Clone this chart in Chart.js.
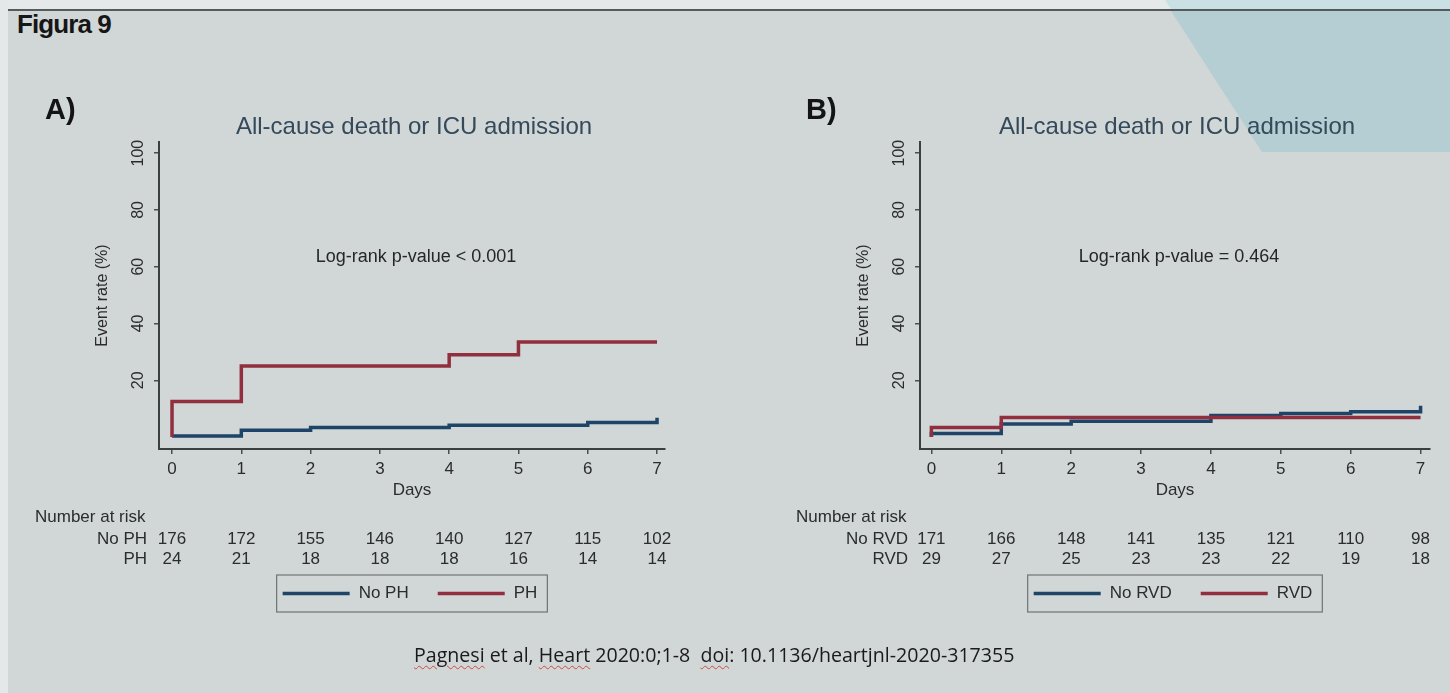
<!DOCTYPE html>
<html lang="es">
<head>
<meta charset="UTF-8">
<title>Figura 9</title>
<script src="https://cdn.jsdelivr.net/npm/chart.js"></script>
<style>
  body { margin: 0; width: 1450px; height: 693px; overflow: hidden; position: relative;
         background: #d1d6d7; font-family: "Liberation Sans", Arial, sans-serif; }
  .abs { position: absolute; }
  #topStrip { left: 0; top: 0; width: 1450px; height: 9px; background: #e6e9ea; }
  #leftStrip { left: 0; top: 0; width: 8px; height: 693px; background: #e4e8e9; }
  #tealTop { left: 0; top: 0; width: 1450px; height: 9px; background: #c9e0e4;
             clip-path: polygon(1165px 0, 1450px 0, 1450px 9px, 1171px 9px); }
  #teal { left: 0; top: 0; width: 1450px; height: 693px; background: #b4ced3;
          clip-path: polygon(1171px 11px, 1450px 11px, 1450px 152px, 1262px 152px); }
  #rule { left: 8px; top: 9px; width: 1442px; height: 2px; background: #555a5c; }
  #figLabel { left: 17px; top: 9px; font-weight: bold; font-size: 26px; letter-spacing: -0.9px; color: #161616; }
  canvas { position: absolute; top: 0; }
  #chartA { left: 0; }
  #chartB { left: 725px; }
  #cite { left: 414px; top: 641px; font-family: "Open Sans", sans-serif; font-size: 19.6px; color: #1a1a1a; white-space: pre; }
  #cite .sp { text-decoration: underline wavy #d24a3c 1px; text-underline-offset: 3px; }
</style>
</head>
<body>
<div id="topStrip" class="abs"></div>
<div id="leftStrip" class="abs"></div>
<div id="tealTop" class="abs"></div>
<div id="teal" class="abs"></div>
<div id="rule" class="abs"></div>
<div id="figLabel" class="abs">Figura 9</div>
<canvas id="chartA" width="725" height="693"></canvas>
<canvas id="chartB" width="725" height="693"></canvas>
<div id="cite" class="abs"><span class="sp">Pagnesi</span> et al, <span class="sp">Heart</span> 2020:0;1-8  <span class="sp">doi</span>: 10.1136/heartjnl-2020-317355</div>

<script>
const dayTicks = [0, 1, 2, 3, 4, 5, 6, 7];
const rateTicks = [20, 40, 60, 80, 100];

// A) No PH vs PH
const noPhDays = [0, 1, 2, 4, 6, 7, 7];
const noPhRate = [0.4, 2.4, 3.4, 4.2, 5.1, 5.1, 6.8];
const phDays = [0, 0, 1, 4, 5, 7];
const phRate = [0, 12.5, 25, 29, 33.5, 33.5];
const noPhAtRisk = [176, 172, 155, 146, 140, 127, 115, 102];
const phAtRisk = [24, 21, 18, 18, 18, 16, 14, 14];

// B) No RVD vs RVD
const noRvdDays = [0, 0, 1, 2, 4, 5, 6, 7, 7];
const noRvdRate = [0, 1.3, 4.6, 5.6, 7.6, 8.3, 8.9, 8.9, 11];
const rvdDays = [0, 0, 1, 7];
const rvdRate = [0, 3.4, 6.9, 6.9];
const noRvdAtRisk = [171, 166, 148, 141, 135, 121, 110, 98];
const rvdAtRisk = [29, 27, 25, 23, 23, 22, 19, 18];

const BLUE = '#1e4468';
const RED = '#922f3e';
const FONT = '"Liberation Sans", Arial, sans-serif';

function points(days, rates) {
  return days.map((d, i) => ({ x: d, y: rates[i] }));
}

// draws titles, rotated y labels, risk table and legend box
function decorPlugin(p) {
  return {
    id: 'kmDecor',
    afterDraw(chart) {
      const { ctx, chartArea: a, scales: { x, y } } = chart;
      const cx = (a.left + a.right) / 2;
      ctx.save();

      ctx.fillStyle = '#141414';
      ctx.font = 'bold 29px ' + FONT;
      ctx.textAlign = 'left';
      ctx.textBaseline = 'alphabetic';
      ctx.fillText(p.letter, a.left - 114, 119);

      ctx.fillStyle = '#34495a';
      ctx.font = '24px ' + FONT;
      ctx.textAlign = 'center';
      ctx.textBaseline = 'middle';
      ctx.fillText('All-cause death or ICU admission', cx + 2, 127);

      ctx.fillStyle = '#262626';
      ctx.font = '18px ' + FONT;
      ctx.fillText(p.pText, cx + 4, 257);

      // y tick labels, rotated like Stata
      ctx.font = '16px ' + FONT;
      ctx.fillStyle = '#2c2c2c';
      rateTicks.forEach(v => {
        ctx.save();
        ctx.translate(a.left - 20, y.getPixelForValue(v));
        ctx.rotate(-Math.PI / 2);
        ctx.fillText(String(v), 0, 0);
        ctx.restore();
      });
      ctx.save();
      ctx.translate(a.left - 56, (a.top + a.bottom) / 2);
      ctx.rotate(-Math.PI / 2);
      ctx.fillText('Event rate (%)', 0, 0);
      ctx.restore();

      ctx.font = '17px ' + FONT;
      ctx.fillText('Days', cx, 490);

      // number at risk
      ctx.textAlign = 'left';
      ctx.fillText('Number at risk', a.left - 124, 517);
      ctx.textAlign = 'right';
      ctx.fillText(p.rows[0].label, a.left - 12, 539);
      ctx.fillText(p.rows[1].label, a.left - 12, 559);
      ctx.textAlign = 'center';
      dayTicks.forEach((d, i) => {
        const px = x.getPixelForValue(d);
        ctx.fillText(String(p.rows[0].values[i]), px, 539);
        ctx.fillText(String(p.rows[1].values[i]), px, 559);
      });

      // legend
      const lineLen = 67, gap = 9, itemGap = 29;
      const w0 = ctx.measureText(p.rows[0].label).width;
      const w1 = ctx.measureText(p.rows[1].label).width;
      const boxW = 6 + lineLen + gap + w0 + itemGap + lineLen + gap + w1 + 10;
      const bx = cx - boxW / 2, by = 575, bh = 37;
      ctx.strokeStyle = '#6e7476';
      ctx.lineWidth = 1.2;
      ctx.strokeRect(bx, by, boxW, bh);
      let lx = bx + 6;
      const ly = by + bh / 2;
      ctx.lineWidth = 3.5;
      ctx.textAlign = 'left';
      [[BLUE, p.rows[0].label, w0], [RED, p.rows[1].label, w1]].forEach(([col, lab, w]) => {
        ctx.strokeStyle = col;
        ctx.beginPath();
        ctx.moveTo(lx, ly);
        ctx.lineTo(lx + lineLen, ly);
        ctx.stroke();
        lx += lineLen + gap;
        ctx.fillText(lab, lx, ly);
        lx += w + itemGap;
      });

      ctx.restore();
    }
  };
}

function makePanel(id, p) {
  const tickFont = { family: FONT, size: 17 };
  new Chart(document.getElementById(id), {
    type: 'line',
    data: {
      datasets: [
        { label: p.rows[0].label, data: p.blue, borderColor: BLUE, order: 2 },
        { label: p.rows[1].label, data: p.red, borderColor: RED, order: 1 }
      ].map(ds => Object.assign(ds, {
        stepped: 'before', borderWidth: 3.5, pointRadius: 0, fill: false,
        borderJoinStyle: 'miter', borderCapStyle: 'butt'
      }))
    },
    options: {
      responsive: false,
      animation: false,
      layout: { padding: { left: p.padLeft, right: p.padRight, top: 142, bottom: 204 } },
      plugins: { legend: { display: false }, tooltip: { enabled: false } },
      scales: {
        x: {
          type: 'linear', min: p.xMin, max: p.xMax,
          afterBuildTicks: s => { s.ticks = dayTicks.map(v => ({ value: v })); },
          afterFit: s => { s.height = 40; },
          ticks: { font: tickFont, color: '#2c2c2c', padding: 5, maxRotation: 0, autoSkip: false },
          grid: { drawOnChartArea: false, drawTicks: true, tickLength: 5, color: '#4a4f52', lineWidth: 1.5 },
          border: { color: '#3a3f42', width: 2 }
        },
        y: {
          type: 'linear', min: -4.2, max: 103.9,
          afterBuildTicks: s => { s.ticks = rateTicks.map(v => ({ value: v })); },
          afterFit: s => { s.width = 10; },
          ticks: { display: false },
          grid: { drawOnChartArea: false, drawTicks: true, tickLength: 5, color: '#4a4f52', lineWidth: 1.5 },
          border: { color: '#3a3f42', width: 2 }
        }
      }
    },
    plugins: [decorPlugin(p)]
  });
}

makePanel('chartA', {
  letter: 'A)', pText: 'Log-rank p-value < 0.001',
  blue: points(noPhDays, noPhRate), red: points(phDays, phRate),
  rows: [{ label: 'No PH', values: noPhAtRisk }, { label: 'PH', values: phAtRisk }],
  xMin: -0.188, xMax: 7.115, padLeft: 149, padRight: 60
});

makePanel('chartB', {
  letter: 'B)', pText: 'Log-rank p-value = 0.464',
  blue: points(noRvdDays, noRvdRate), red: points(rvdDays, rvdRate),
  rows: [{ label: 'No RVD', values: noRvdAtRisk }, { label: 'RVD', values: rvdAtRisk }],
  xMin: -0.163, xMax: 7.135, padLeft: 185, padRight: 20
});
</script>
</body>
</html>
